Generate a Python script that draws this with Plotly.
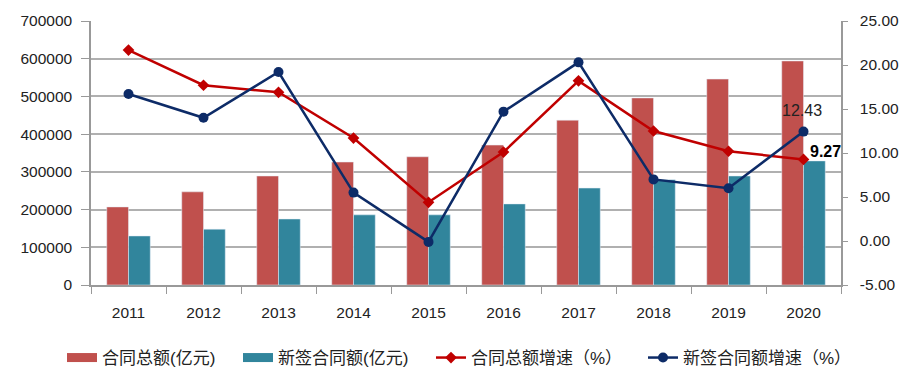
import plotly.graph_objects as go

years = ["2011", "2012", "2013", "2014", "2015", "2016", "2017", "2018", "2019", "2020"]
total_contract = [207000, 247000, 289000, 326000, 340000, 371000, 437000, 496000, 546000, 594000]
new_contract = [130000, 148000, 175000, 186000, 186000, 215000, 257000, 279000, 289000, 329000]
total_growth = [21.7, 17.7, 16.9, 11.7, 4.4, 10.1, 18.2, 12.5, 10.2, 9.27]
new_growth = [16.7, 14.0, 19.2, 5.5, -0.1, 14.7, 20.3, 7.0, 6.0, 12.43]

left_ticks = [0, 100000, 200000, 300000, 400000, 500000, 600000, 700000]
right_ticks = [-5, 0, 5, 10, 15, 20, 25]

names = ["合同总额(亿元)", "新签合同额(亿元)", "合同总额增速（%）", "新签合同额增速（%）"]
c_bar1, c_bar2, c_line1, c_line2 = "#C0504D", "#31859C", "#C00000", "#0D2B67"

font = "Liberation Sans, Arial, Noto Sans CJK SC, sans-serif"
xs = list(range(len(years)))

fig = go.Figure()
fig.add_trace(go.Bar(x=xs, y=total_contract, name=names[0], marker=dict(color=c_bar1), showlegend=False))
fig.add_trace(go.Bar(x=xs, y=new_contract, name=names[1], marker=dict(color=c_bar2), showlegend=False))
# legend swatches for bars (wide rectangles like the reference)
fig.add_trace(go.Scatter(x=[None], y=[None], name=names[0], mode="lines", legend="legend",
                         line=dict(color=c_bar1, width=9)))
fig.add_trace(go.Scatter(x=[None], y=[None], name=names[1], mode="lines", legend="legend2",
                         line=dict(color=c_bar2, width=9)))
fig.add_trace(go.Scatter(x=xs, y=total_growth, name=names[2], yaxis="y2", mode="lines+markers", legend="legend3",
                         line=dict(color=c_line1, width=2.5), marker=dict(symbol="diamond", size=9, color=c_line1)))
fig.add_trace(go.Scatter(x=xs, y=new_growth, name=names[3], yaxis="y2", mode="lines+markers", legend="legend4",
                         line=dict(color=c_line2, width=2.5), marker=dict(symbol="circle", size=10, color=c_line2)))

fig.add_annotation(x=xs[-1], y=new_growth[-1], yref="y2", text="12.43", showarrow=False,
                   yshift=21, xshift=-2, font=dict(size=16, color="#222", family=font))
fig.add_annotation(x=xs[-1], y=total_growth[-1], yref="y2", text="<b>9.27</b>", showarrow=False,
                   xshift=22, yshift=8, font=dict(size=16, color="#000", family=font))

W, H = 907, 371
legend_x = [54, 230, 423, 635]


def leg(x):
    return dict(orientation="h", xref="container", yref="container", x=x / W, y=1 - 350 / H,
                xanchor="left", yanchor="middle", font=dict(size=17, color="#222"), tracegroupgap=0,
                bgcolor="rgba(0,0,0,0)")


fig.update_layout(
    width=W, height=H,
    margin=dict(l=83, r=74, t=13, b=94, autoexpand=False),
    paper_bgcolor="white", plot_bgcolor="white",
    font=dict(family=font, size=15, color="#222"),
    barmode="group", bargap=0.42, bargroupgap=0.0,
    showlegend=True,
    legend=leg(legend_x[0]), legend2=leg(legend_x[1]), legend3=leg(legend_x[2]), legend4=leg(legend_x[3]),
    xaxis=dict(range=[-0.5, len(years) - 0.5], tickvals=xs, ticktext=years, automargin=False,
               showline=True, linecolor="#999", linewidth=1.5, ticks="", showgrid=False,
               tickfont=dict(size=15.5), zeroline=False, ticklabelstandoff=13,
               minor=dict(tick0=-0.5, dtick=1, ticks="outside", ticklen=7, tickcolor="#999", showgrid=False)),
    yaxis=dict(range=[0, 700000], tickvals=left_ticks, ticktext=[str(v) for v in left_ticks], automargin=False,
               showgrid=True, gridcolor="#B0B0B0", gridwidth=1.5, showline=True, linecolor="#999", linewidth=1.5,
               ticks="outside", ticklen=8, tickcolor="#999", tickfont=dict(size=15.5), zeroline=False,
               ticklabelstandoff=6),
    yaxis2=dict(range=[-5, 25], overlaying="y", side="right", tickvals=right_ticks, automargin=False,
                ticktext=[f"{v:.2f}" for v in right_ticks], showgrid=False, showline=True, linecolor="#999",
                linewidth=1.5, ticks="outside", ticklen=5, tickcolor="#999", tickfont=dict(size=15.5),
                zeroline=False, ticklabelstandoff=9),
)

fig.write_html("out.html")
